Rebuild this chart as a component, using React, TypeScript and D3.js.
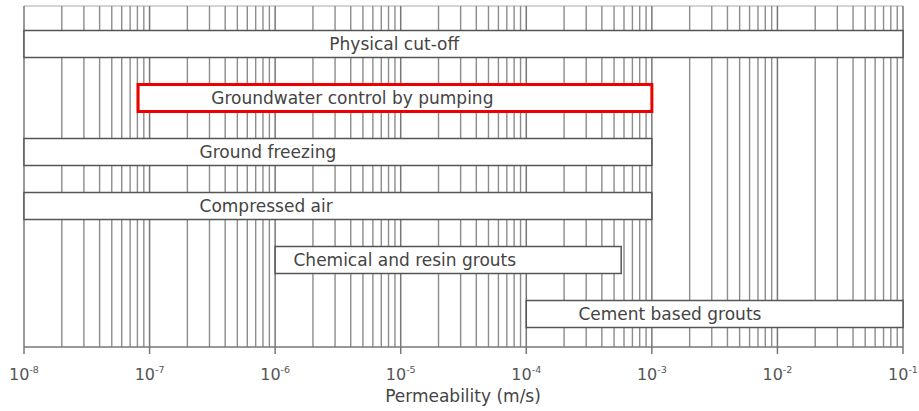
import React from "react";
import * as d3 from "d3";

const methods = [
  "Physical cut-off",
  "Groundwater control by pumping",
  "Ground freezing",
  "Compressed air",
  "Chemical and resin grouts",
  "Cement based grouts",
];
const rangeMin = [1e-8, 8.1e-8, 1e-8, 1e-8, 1e-6, 1e-4];
const rangeMax = [1e-1, 1e-3, 1e-3, 1e-3, 5.7e-4, 1e-1];
const labelAt = [2.7e-6, 3.1e-7, 2.5e-7, 2.5e-7, 1.4e-6, 2.6e-4];
const highlighted = [false, true, false, false, false, false];
const majorExponents = [-8, -7, -6, -5, -4, -3, -2, -1];
const axisTitle = "Permeability (m/s)";

const W = 919;
const H = 411;
const margin = { left: 24, right: 16, top: 6, bottom: 64 };

export default function App() {
  const x = d3
    .scaleLog()
    .domain([1e-8, 1e-1])
    .range([margin.left, W - margin.right]);
  const y = d3
    .scaleBand()
    .domain(methods)
    .range([17, 341])
    .paddingInner(0.5)
    .paddingOuter(0.25);
  const yBottom = H - margin.bottom;

  const minor: number[] = [];
  majorExponents.slice(0, -1).forEach((e) => {
    for (let m = 2; m <= 9; m++) minor.push(m * Math.pow(10, e));
  });
  const majors = majorExponents.map((e) => Math.pow(10, e));

  const grid = "#8c8c8c";
  const font = "'DejaVu Sans', Verdana, sans-serif";

  return (
    <svg width={W} height={H} style={{ display: "block", position: "absolute", left: 0, top: 0 }}>
      <rect x={0} y={0} width={W} height={H} fill="#fff" />
      <line x1={x(1e-8)} x2={x(1e-1)} y1={margin.top} y2={margin.top} stroke="#aaa" strokeWidth={1.2} />
      {minor.map((v, i) => (
        <line key={"mn" + i} x1={x(v)} x2={x(v)} y1={margin.top} y2={yBottom} stroke={grid} strokeWidth={1.4} />
      ))}
      {majors.map((v, i) => (
        <line key={"mj" + i} x1={x(v)} x2={x(v)} y1={margin.top} y2={yBottom + 7} stroke="#777" strokeWidth={1.5} />
      ))}
      <line x1={x(1e-8)} x2={x(1e-1)} y1={yBottom} y2={yBottom} stroke="#777" strokeWidth={1.6} />
      {methods.map((m, i) => {
        const yy = y(m) as number;
        const bh = y.bandwidth();
        return (
          <g key={m}>
            <rect
              x={x(rangeMin[i])}
              y={yy}
              width={x(rangeMax[i]) - x(rangeMin[i])}
              height={bh}
              fill="#fff"
              stroke={highlighted[i] ? "#ee0000" : "#555"}
              strokeWidth={highlighted[i] ? 3 : 1.5}
            />
            <text
              x={x(labelAt[i])}
              y={yy + bh / 2 + 6}
              fontFamily={font}
              fontSize={17}
              fill="#444"
            >
              {m}
            </text>
          </g>
        );
      })}
      {majorExponents.map((e) => (
        <text
          key={"t" + e}
          x={x(Math.pow(10, e))}
          y={380}
          textAnchor="middle"
          fontFamily={font}
          fontSize={16}
          fill="#555"
        >
          <tspan>10</tspan>
          <tspan fontSize={9.5} dy={-7}>{"-" + Math.abs(e)}</tspan>
        </text>
      ))}
      <text x={463} y={402} textAnchor="middle" fontFamily={font} fontSize={17} fill="#444">
        {axisTitle}
      </text>
    </svg>
  );
}
